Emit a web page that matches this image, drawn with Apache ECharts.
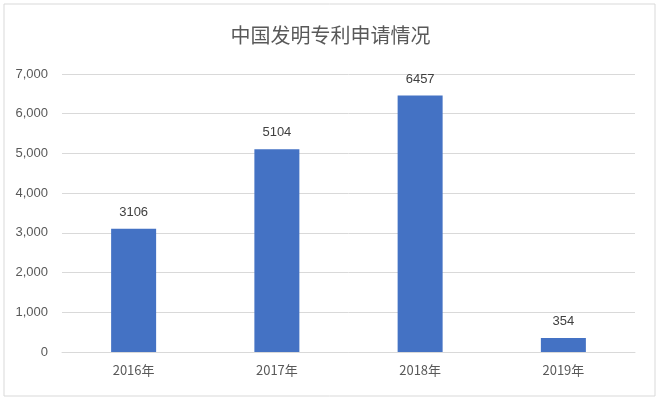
<!DOCTYPE html>
<html><head><meta charset="utf-8">
<script src="https://cdn.jsdelivr.net/npm/echarts@6/dist/echarts.min.js"></script>
<style>html,body{margin:0;padding:0;background:#fff}#c{width:661px;height:400px}</style>
</head><body><div id="c"></div>
<script>
var categories = ['2016年','2017年','2018年','2019年'];
var values = [3106, 5104, 6457, 354];
var yTicks = [0,1000,2000,3000,4000,5000,6000,7000];
var chart = echarts.init(document.getElementById('c'));
chart.setOption({
  animation:false,
  title:{text:'中国发明专利申请情况',left:'center',top:20,textStyle:{fontFamily:'Noto Sans CJK SC',fontSize:20,fontWeight:'normal',color:'#595959'}},
  graphic:[{type:'rect',shape:{x:4,y:4,width:651,height:392},style:{fill:'none',stroke:'#d9d9d9',lineWidth:1}}],
  grid:{left:62,right:26,top:74,bottom:48},
  xAxis:{type:'category',data:categories,axisTick:{show:false},axisLine:{lineStyle:{color:'#d9d9d9'}},
    axisLabel:{color:'#595959',fontSize:13,fontFamily:'Noto Sans CJK SC',margin:12}},
  yAxis:{type:'value',min:0,max:7000,interval:1000,axisLine:{show:false},axisTick:{show:false},
    splitLine:{lineStyle:{color:'#d9d9d9'}},axisLabel:{color:'#595959',fontSize:13,fontFamily:'Liberation Sans',margin:14}},
  series:[{type:'bar',data:values,barWidth:45,itemStyle:{color:'#4472c4'},
    label:{show:true,position:'top',distance:10,color:'#404040',fontSize:13,fontFamily:'Liberation Sans'}}]
});
</script></body></html>
